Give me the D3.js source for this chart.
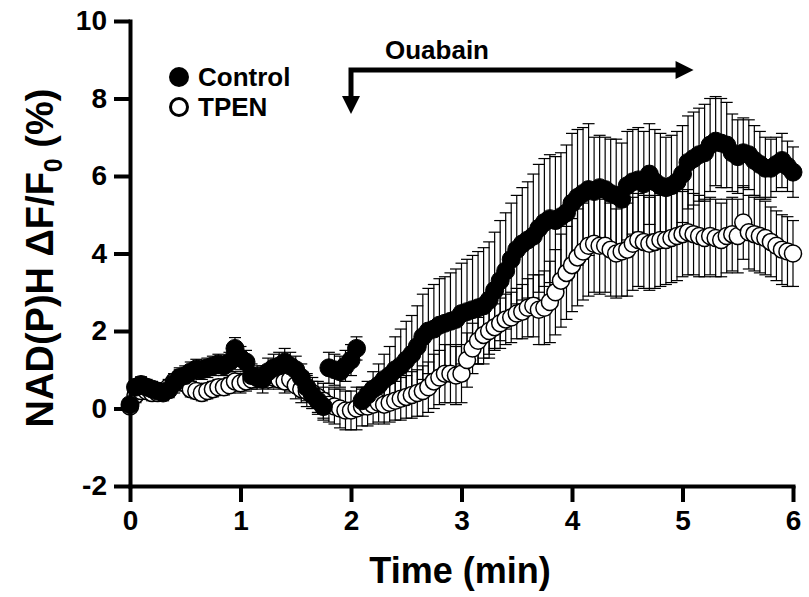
<!DOCTYPE html>
<html><head><meta charset="utf-8">
<script src="https://cdn.jsdelivr.net/npm/d3@7"></script>
<style>body{margin:0;background:#fff}svg{display:block}text{font-family:"Liberation Sans",Arial,sans-serif;font-weight:bold}</style>
</head><body><svg id="c" width="809" height="597"></svg>
<script>
const time = [0.00,0.05,0.10,0.15,0.20,0.25,0.30,0.35,0.40,0.45,0.50,0.55,0.60,0.65,0.70,0.75,0.80,0.85,0.90,0.95,
1.00,1.05,1.10,1.15,1.20,1.25,1.30,1.35,1.40,1.45,1.50,1.55,1.60,1.65,1.70,1.75,1.80,1.85,1.90,1.95,
2.00,2.05,2.10,2.15,2.20,2.25,2.30,2.35,2.40,2.45,2.50,2.55,2.60,2.65,2.70,2.75,2.80,2.85,2.90,2.95,
3.00,3.05,3.10,3.15,3.20,3.25,3.30,3.35,3.40,3.45,3.50,3.55,3.60,3.65,3.70,3.75,3.80,3.85,3.90,3.95,
4.00,4.05,4.10,4.15,4.20,4.25,4.30,4.35,4.40,4.45,4.50,4.55,4.60,4.65,4.70,4.75,4.80,4.85,4.90,4.95,
5.00,5.05,5.10,5.15,5.20,5.25,5.30,5.35,5.40,5.45,5.50,5.55,5.60,5.65,5.70,5.75,5.80,5.85,5.90,5.95,6.00];

const controlMean = [0.10,0.55,0.62,0.55,0.50,0.45,0.40,0.48,0.65,0.80,0.85,0.95,1.02,1.00,1.05,1.10,1.15,1.10,1.20,1.55,
1.30,1.20,0.85,0.80,0.75,0.95,1.05,1.10,1.20,1.10,1.00,0.80,0.55,0.35,0.20,0.05,1.05,1.00,0.95,1.10,
1.25,1.55,0.20,0.35,0.50,0.60,0.75,0.85,1.00,1.10,1.25,1.40,1.60,1.85,2.00,2.05,2.15,2.20,2.25,2.30,
2.45,2.50,2.55,2.60,2.65,2.80,3.05,3.30,3.55,3.85,4.10,4.25,4.35,4.45,4.65,4.80,4.90,4.85,4.95,5.05,
5.30,5.45,5.55,5.65,5.60,5.70,5.65,5.55,5.50,5.40,5.75,5.85,5.90,5.80,6.05,5.85,5.75,5.70,5.75,5.85,
6.05,6.35,6.45,6.55,6.60,6.80,6.90,6.85,6.80,6.60,6.50,6.60,6.55,6.40,6.30,6.20,6.20,6.30,6.40,6.25,6.10];

const controlSem = [0.10,0.20,0.20,0.20,0.20,0.20,0.20,0.20,0.25,0.25,0.25,0.25,0.25,0.25,0.25,0.25,0.25,0.25,0.25,0.28,
0.30,0.30,0.30,0.30,0.35,0.35,0.35,0.35,0.35,0.35,0.35,0.35,0.35,0.35,0.35,0.35,0.40,0.40,0.40,0.40,
0.40,0.30,0.30,0.35,0.45,0.55,0.65,0.75,0.85,0.95,1.00,1.00,1.05,1.10,1.10,1.15,1.20,1.20,1.25,1.30,
1.30,1.35,1.40,1.45,1.50,1.50,1.50,1.55,1.50,1.45,1.40,1.45,1.50,1.60,1.65,1.65,1.65,1.65,1.65,1.75,
1.80,1.75,1.70,1.70,1.40,1.35,1.35,1.40,1.45,1.45,1.40,1.35,1.35,1.35,1.30,1.35,1.35,1.30,1.30,1.30,
1.25,1.20,1.20,1.20,1.25,1.20,1.15,1.15,1.10,1.00,0.95,0.90,0.90,0.90,0.85,0.80,0.75,0.70,0.70,0.65,0.65];

const tpenMean = [0.05,0.35,0.45,0.45,0.40,0.40,0.45,0.55,0.70,0.80,0.65,0.50,0.45,0.40,0.45,0.50,0.55,0.55,0.60,0.70,
0.65,0.70,0.75,0.80,0.80,0.75,0.80,0.75,0.70,0.75,0.60,0.50,0.45,0.40,0.30,0.20,0.10,0.05,0.00,-0.05,
-0.05,0.00,0.05,0.05,0.10,0.15,0.10,0.15,0.20,0.25,0.30,0.35,0.40,0.45,0.55,0.70,0.80,0.90,0.90,0.85,
0.90,1.25,1.55,1.75,1.90,2.00,2.10,2.20,2.30,2.35,2.45,2.50,2.60,2.65,2.55,2.60,2.75,3.00,3.30,3.50,
3.70,3.90,4.05,4.20,4.25,4.20,4.20,4.10,4.00,4.05,4.10,4.25,4.35,4.30,4.25,4.30,4.35,4.35,4.40,4.45,
4.50,4.55,4.50,4.45,4.40,4.45,4.40,4.35,4.45,4.50,4.45,4.80,4.55,4.50,4.45,4.40,4.30,4.20,4.10,4.05,4.00];

const tpenSem = [0.10,0.20,0.20,0.20,0.20,0.20,0.20,0.20,0.20,0.20,0.20,0.20,0.20,0.20,0.20,0.20,0.20,0.20,0.20,0.25,
0.25,0.25,0.25,0.25,0.25,0.25,0.25,0.25,0.30,0.30,0.35,0.35,0.40,0.40,0.40,0.45,0.45,0.45,0.50,0.50,
0.50,0.55,0.50,0.50,0.50,0.50,0.50,0.50,0.50,0.55,0.55,0.60,0.60,0.65,0.65,0.70,0.70,0.75,0.75,0.75,
0.75,0.70,0.65,0.60,0.60,0.60,0.60,0.65,0.65,0.65,0.65,0.70,0.75,0.80,0.90,0.95,1.05,1.10,1.20,1.20,
1.20,1.25,1.25,1.30,1.25,1.25,1.20,1.20,1.15,1.15,1.20,1.20,1.20,1.20,1.20,1.20,1.20,1.15,1.15,1.15,
1.10,1.10,1.05,1.05,1.00,1.00,1.00,0.95,0.95,0.95,0.95,0.95,0.95,0.95,0.95,0.95,0.90,0.90,0.90,0.90,0.85];

const xTicks = [0,1,2,3,4,5,6];
const yTicks = [-2,0,2,4,6,8,10];
const seriesNames = ["Control","TPEN"];
const ouabain = {label:"Ouabain", start:2.0, end:5.1};

const svg = d3.select("#c");
const x = d3.scaleLinear().domain([0,6]).range([130,793]);
const y = d3.scaleLinear().domain([-2,10]).range([486,21]);

const control = time.map((t,i)=>({t, m:controlMean[i], e:controlSem[i]}));
const tpen = time.map((t,i)=>({t, m:tpenMean[i], e:tpenSem[i]}));

function errBars(data){
  const g = svg.append("g").attr("stroke","#000").attr("stroke-width",1.2).attr("fill","none");
  data.forEach(d=>{
    const cx = x(d.t), y1 = y(d.m+d.e), y2 = y(d.m-d.e);
    g.append("line").attr("x1",cx).attr("x2",cx).attr("y1",y1).attr("y2",y2);
    g.append("line").attr("x1",cx-6).attr("x2",cx+6).attr("y1",y1).attr("y2",y1);
    g.append("line").attr("x1",cx-6).attr("x2",cx+6).attr("y1",y2).attr("y2",y2);
  });
}
errBars(control);
errBars(tpen);

svg.append("g").selectAll("circle").data(tpen).join("circle")
  .attr("cx",d=>x(d.t)).attr("cy",d=>y(d.m)).attr("r",8.5)
  .attr("fill","#fff").attr("stroke","#000").attr("stroke-width",1.5);
svg.append("g").selectAll("circle").data(control).join("circle")
  .attr("cx",d=>x(d.t)).attr("cy",d=>y(d.m)).attr("r",9)
  .attr("fill","#000").attr("stroke","#000").attr("stroke-width",1);

// axes
const fmt = d => String(d);
const ax = svg.append("g").attr("transform","translate(0,486)")
  .call(d3.axisBottom(x).tickValues(xTicks).tickSize(16).tickSizeOuter(0).tickPadding(8).tickFormat(fmt));
const ay = svg.append("g").attr("transform","translate(130,0)")
  .call(d3.axisLeft(y).tickValues(yTicks).tickSize(16).tickSizeOuter(0).tickPadding(7).tickFormat(fmt));
[ax,ay].forEach(a=>{
  a.select(".domain").attr("stroke","#000").attr("stroke-width",4).attr("stroke-linecap","square");
  a.selectAll(".tick line").attr("stroke","#000").attr("stroke-width",4);
  a.selectAll(".tick text").attr("fill","#000").style("font-size","28px").style("font-weight","bold")
   .style("font-family",'"Liberation Sans",Arial,sans-serif');
});

// axis titles
svg.append("text").attr("x",460).attr("y",583).attr("text-anchor","middle")
  .style("font-size","36px").text("Time (min)");
const yt = svg.append("text").attr("transform","translate(53,258) rotate(-90)")
  .attr("text-anchor","middle").style("font-size","38px");
yt.append("tspan").text("NAD(P)H ΔF/F");
yt.append("tspan").attr("dy",9).style("font-size","25px").text("0");
yt.append("tspan").attr("dy",-9).text(" (%)");

// legend
const leg = svg.append("g");
leg.append("circle").attr("cx",179).attr("cy",77).attr("r",10).attr("fill","#000");
leg.append("text").attr("x",198).attr("y",86).style("font-size","26px").text(seriesNames[0]);
leg.append("circle").attr("cx",179).attr("cy",107).attr("r",8.5).attr("fill","#fff").attr("stroke","#000").attr("stroke-width",3);
leg.append("text").attr("x",198).attr("y",116).style("font-size","26px").text(seriesNames[1]);

// ouabain arrow
const ax0 = x(ouabain.start), ax1 = x(ouabain.end), ay0 = 70;
const arr = svg.append("g");
arr.append("path").attr("d",`M${ax0},${ay0+28} V${ay0} H${ax1-16}`)
  .attr("fill","none").attr("stroke","#000").attr("stroke-width",5);
arr.append("path").attr("d",`M${ax1-18},${ay0-9} L${ax1},${ay0} L${ax1-18},${ay0+9} Z`).attr("fill","#000");
arr.append("path").attr("d",`M${ax0-9},${ay0+26} L${ax0+9},${ay0+26} L${ax0},${ay0+44} Z`).attr("fill","#000");
svg.append("text").attr("x",437).attr("y",59).attr("text-anchor","middle").style("font-size","26px").text(ouabain.label);
</script></body></html>
